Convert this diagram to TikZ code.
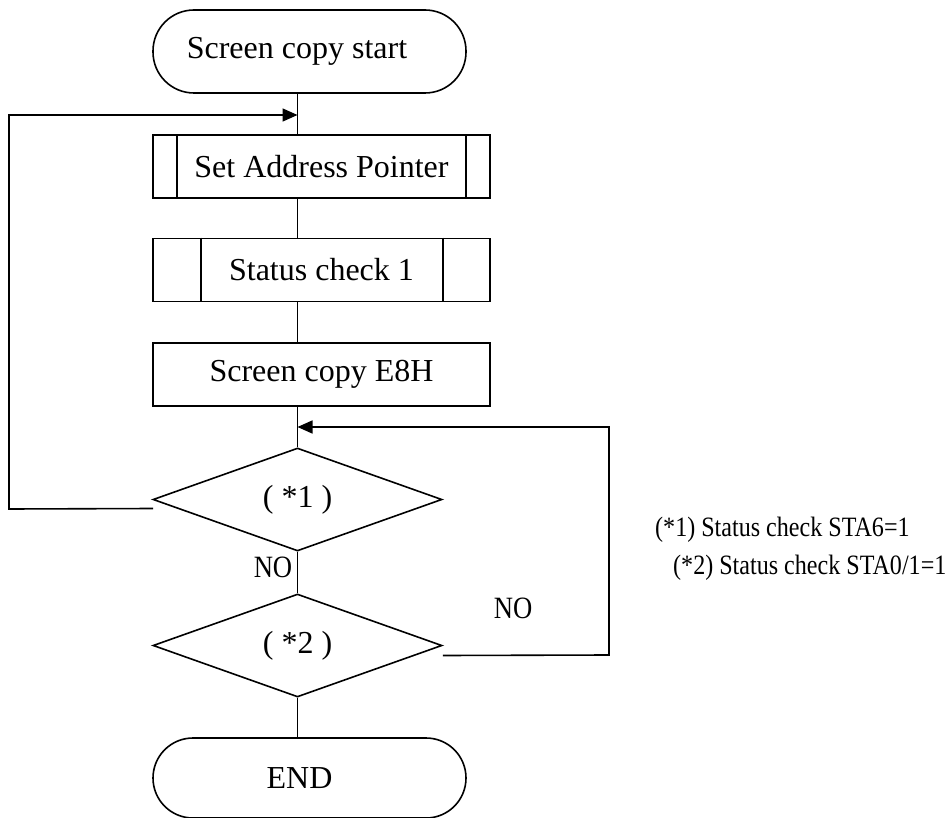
\documentclass[tikz,border=0pt]{standalone}
\usepackage{fontspec}
\setmainfont{Liberation Serif}
\newfontfamily\narrowfont[FakeStretch=0.86]{Liberation Serif}
\usetikzlibrary{shapes.geometric,arrows.meta,calc}
\begin{document}
\begin{tikzpicture}[x=1pt,y=-1pt,
  every node/.style={font=\fontsize{32}{38}\selectfont},
  conn/.style={line width=1.6pt},
  arr/.style={conn,-{Triangle[length=15pt,width=13pt]}},
  terminal/.style={draw,line width=1.6pt,rounded corners=41pt,minimum width=313pt,minimum height=83pt,inner sep=0pt},
  procbox/.style={draw,line width=1.6pt,minimum width=337pt,minimum height=63pt,inner sep=0pt},
  decision/.style={draw,line width=1.6pt,diamond,minimum width=289pt,minimum height=103pt,inner sep=0pt,aspect=2.8},
  lbl/.style={font=\narrowfont\fontsize{31}{36}\selectfont,inner sep=0pt},
  note/.style={font=\narrowfont\fontsize{28}{33}\selectfont,inner sep=0pt,anchor=west}]
\useasboundingbox (0,0) rectangle (950,818);
\node[terminal] (start) at (309.5,51.5) {\hspace*{-25pt}Screen copy start};
\node[procbox] (sap) at (321.5,166.5) {Set Address Pointer};
\draw[conn] ([xshift=25pt]sap.north west) -- ([xshift=25pt]sap.south west);
\draw[conn] ([xshift=-25pt]sap.north east) -- ([xshift=-25pt]sap.south east);
\node[procbox] (sc1) at (321.5,270) {Status check 1};
\draw[conn] ([xshift=49pt]sc1.north west) -- ([xshift=49pt]sc1.south west);
\draw[conn] ([xshift=-48pt]sc1.north east) -- ([xshift=-48pt]sc1.south east);
\node[procbox] (e8h) at (321.5,374.5) {Screen copy E8H};
\node[decision] (d1) at (297.5,499.5) {( *1 )};
\node[decision] (d2) at (297.5,645.5) {( *2 )};
\node[terminal,minimum height=80pt,rounded corners=40pt] (end) at (309.5,778) {\hspace*{-20pt}END};
\coordinate (top) at (297.5,115);
\coordinate (mid) at (297.5,427);
\coordinate (ll) at (9,509);
\coordinate (rr) at (609,655);
% main flow
\draw[conn] (start.south -| top) -- (top) -- (top |- sap.north);
\draw[conn] (sap.south -| top) -- (sc1.north -| top);
\draw[conn] (sc1.south -| top) -- (e8h.north -| top);
\draw[conn] (e8h.south -| top) -- (d1.north);
\draw[conn] (d1.south) -- (d2.north);
\draw[conn] (d2.south) -- (end.north -| d2.south);
% loops
\draw[arr] ($(d1.west)+(1,9)$) -- (ll) -- (ll |- top) -- (top);
\draw[arr] ($(d2.east)+(0,10)$) -- (rr) -- (rr |- mid) -- (mid);
% labels
\node[lbl] (no1) at (273,567) {NO};
\node[lbl] (no2) at (513,608) {NO};
\node[note] (n1) at (655,530) {(*1) Status check STA6=1};
\node[note] (n2) at (673,568) {(*2) Status check STA0/1=1};
\end{tikzpicture}
\end{document}
